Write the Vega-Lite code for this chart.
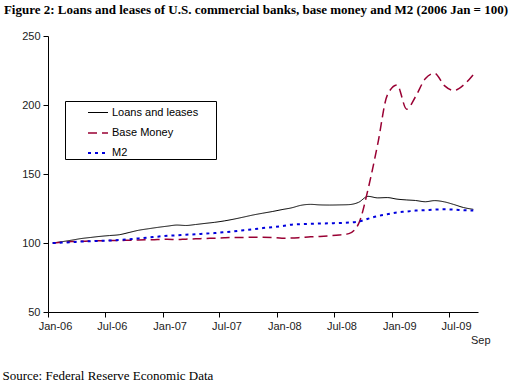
{
"$schema": "https://vega.github.io/schema/vega-lite/v6.json",
"width": 430, "height": 276,
"autosize": {"type": "none"},
"padding": {"left": 48, "top": 36, "right": 33, "bottom": 74},
"background": "white",
"config": {"view": {"stroke": null}},
"title": {"text": "Figure 2: Loans and leases of U.S. commercial banks, base money and M2 (2006 Jan = 100)", "font": "Liberation Serif", "fontSize": 13, "fontWeight": "bold", "color": "black", "anchor": "middle", "dx": -7, "offset": 3, "baseline": "alphabetic"},
"datasets": {
"raw": [
{"d":"2006-01-16","L":100,"B":100,"M":100},
{"d":"2006-02-16","L":101,"B":100.5,"M":100.3},
{"d":"2006-03-16","L":102,"B":101,"M":100.6},
{"d":"2006-04-16","L":103.2,"B":101.2,"M":101},
{"d":"2006-05-16","L":104,"B":101.5,"M":101.3},
{"d":"2006-06-16","L":104.8,"B":101.6,"M":101.5},
{"d":"2006-07-16","L":105.4,"B":101.8,"M":101.8},
{"d":"2006-08-16","L":106,"B":101.8,"M":102.2},
{"d":"2006-09-16","L":107.6,"B":102,"M":102.7},
{"d":"2006-10-16","L":109.2,"B":102.2,"M":103.3},
{"d":"2006-11-16","L":110.3,"B":102.3,"M":104},
{"d":"2006-12-16","L":111.3,"B":102.5,"M":104.6},
{"d":"2007-01-16","L":112.2,"B":102.7,"M":105.3},
{"d":"2007-02-16","L":113,"B":102.5,"M":105.6},
{"d":"2007-03-16","L":112.7,"B":102.8,"M":106},
{"d":"2007-04-16","L":113.4,"B":103,"M":106.3},
{"d":"2007-05-16","L":114.2,"B":103.3,"M":106.8},
{"d":"2007-06-16","L":115,"B":103.5,"M":107.2},
{"d":"2007-07-16","L":116,"B":103.8,"M":107.8},
{"d":"2007-08-16","L":117.3,"B":104,"M":108.5},
{"d":"2007-09-16","L":118.8,"B":104,"M":109.3},
{"d":"2007-10-16","L":120.3,"B":104.2,"M":110},
{"d":"2007-11-16","L":121.6,"B":104.2,"M":110.8},
{"d":"2007-12-16","L":122.8,"B":104,"M":111.5},
{"d":"2008-01-16","L":124.2,"B":103.5,"M":112.3},
{"d":"2008-02-16","L":125.5,"B":103.6,"M":113.3},
{"d":"2008-03-16","L":127.3,"B":104,"M":113.6},
{"d":"2008-04-16","L":128,"B":104.5,"M":113.9},
{"d":"2008-05-16","L":127.6,"B":104.8,"M":114.1},
{"d":"2008-06-16","L":127.5,"B":105.2,"M":114.3},
{"d":"2008-07-16","L":127.6,"B":105.8,"M":114.5},
{"d":"2008-08-16","L":127.8,"B":106.8,"M":114.8},
{"d":"2008-09-16","L":129.5,"B":114,"M":115.5},
{"d":"2008-10-16","L":133.8,"B":139,"M":117.6},
{"d":"2008-11-16","L":132.7,"B":172,"M":119.5},
{"d":"2008-12-16","L":132.9,"B":207,"M":120.8},
{"d":"2009-01-16","L":131.8,"B":214.5,"M":122.2},
{"d":"2009-02-16","L":131.2,"B":197,"M":122.8},
{"d":"2009-03-16","L":130.8,"B":206,"M":123.5},
{"d":"2009-04-16","L":129.9,"B":219,"M":123.8},
{"d":"2009-05-16","L":130.7,"B":223,"M":124.2},
{"d":"2009-06-16","L":129.8,"B":214,"M":124.4},
{"d":"2009-07-16","L":127.9,"B":210.5,"M":124.2},
{"d":"2009-08-16","L":125.7,"B":214.5,"M":123.8},
{"d":"2009-09-16","L":124.4,"B":222,"M":123.5}
]},
"data": {"name": "raw"},
"transform": [
{"fold": ["L", "B", "M"], "as": ["k", "v"]},
{"lookup": "k", "from": {"data": {"values": [{"k":"L","series":"Loans and leases","o":0},{"k":"B","series":"Base Money","o":1},{"k":"M","series":"M2","o":2}]}, "key": "k", "fields": ["series", "o"]}}
],
"mark": {"type": "line", "interpolate": "monotone"},
"encoding": {
"x": {"field": "d", "type": "temporal",
  "scale": {"type": "utc", "domain": [{"year": 2006, "month": 1, "date": 1, "utc": true}, {"year": 2009, "month": 10, "date": 1, "utc": true}]},
  "axis": {
    "values": [
      {"year": 2006, "month": 1, "date": 1, "utc": true},
      {"year": 2006, "month": 7, "date": 1, "utc": true},
      {"year": 2007, "month": 1, "date": 1, "utc": true},
      {"year": 2007, "month": 7, "date": 1, "utc": true},
      {"year": 2008, "month": 1, "date": 1, "utc": true},
      {"year": 2008, "month": 7, "date": 1, "utc": true},
      {"year": 2009, "month": 1, "date": 1, "utc": true},
      {"year": 2009, "month": 7, "date": 1, "utc": true},
      {"year": 2009, "month": 9, "date": 16, "utc": true}
    ],
    "labelExpr": "utcmonth(datum.value) == 8 ? 'Sep' : utcFormat(datum.value, '%b-%y')",
    "labelOffset": 7,
    "labelPadding": {"condition": {"test": "utcmonth(datum.value) == 8", "value": 17}, "value": 3},
    "tickOpacity": {"condition": {"test": "utcmonth(datum.value) == 8", "value": 0}, "value": 1},
    "tickSize": 5, "tickColor": "black", "domainColor": "black",
    "labelFont": "Liberation Sans", "labelFontSize": 11, "labelColor": "#222222",
    "labelFlush": false, "labelOverlap": false, "grid": false,
    "title": "Source: Federal Reserve Economic Data",
    "titleFont": "Liberation Serif", "titleFontSize": 13, "titleFontWeight": "normal", "titleColor": "black",
    "titleX": -46, "titleY": 67, "titleAnchor": "start", "titleAlign": "left", "titleBaseline": "alphabetic"
  }},
"y": {"field": "v", "type": "quantitative",
  "scale": {"domain": [50, 250], "nice": false, "zero": false},
  "axis": {"values": [50, 100, 150, 200, 250], "title": null, "grid": false, "tickSize": 5, "tickColor": "black", "domainColor": "black", "labelPadding": 3,
    "labelFont": "Liberation Sans", "labelFontSize": 11, "labelColor": "#222222"}},
"color": {"field": "series", "type": "nominal",
  "scale": {"domain": ["Loans and leases", "Base Money", "M2"], "range": ["#000000", "#990033", "#0000DD"]},
  "legend": {"title": " ", "titleOrient": "right", "titlePadding": 17, "titleFontSize": 1, "orient": "none", "legendX": 17, "legendY": 65, "strokeColor": "black", "fillColor": "white", "padding": 1,
    "symbolType": "stroke", "symbolSize": 400, "symbolOffset": 21, "labelOffset": 3, "rowPadding": 4,
    "labelFont": "Liberation Sans", "labelFontSize": 11, "labelColor": "black"}},
"strokeDash": {"field": "series", "type": "nominal",
  "scale": {"domain": ["Loans and leases", "Base Money", "M2"], "range": [[1, 0], [9, 5], [3, 4]]}},
"strokeWidth": {"field": "series", "type": "nominal",
  "scale": {"domain": ["Loans and leases", "Base Money", "M2"], "range": [1, 2, 2]}},
"order": {"field": "o"}
}
}
